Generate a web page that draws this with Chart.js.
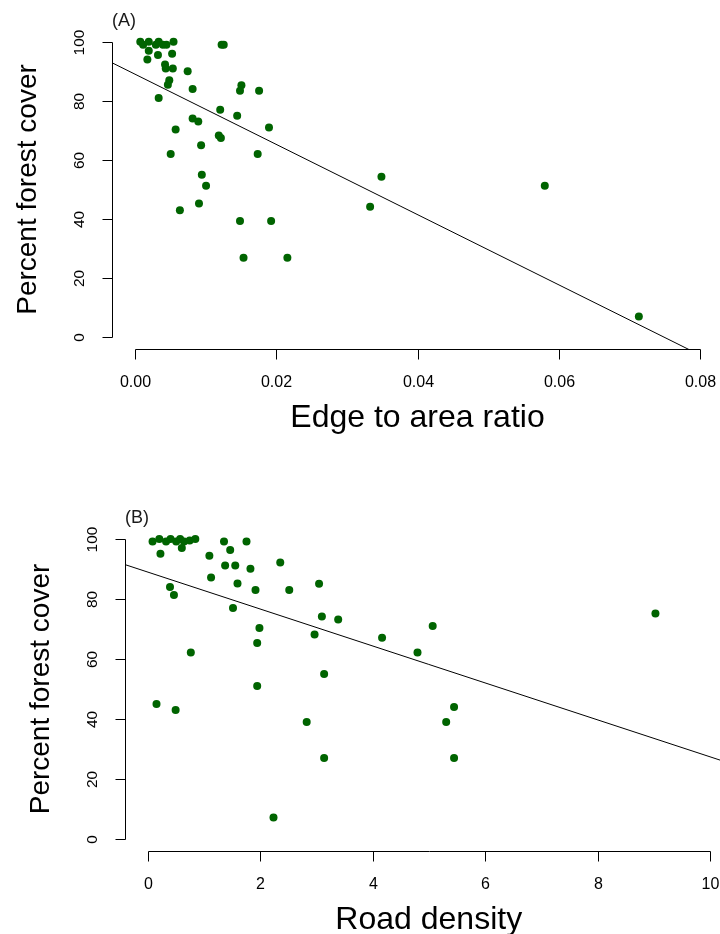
<!DOCTYPE html>
<html>
<head>
<meta charset="utf-8">
<script src="https://cdn.jsdelivr.net/npm/chart.js@4.4.0/dist/chart.umd.min.js"></script>
<style>
  html, body { margin: 0; padding: 0; background: #fff; }
  #wrap { position: relative; width: 720px; height: 934px; overflow: hidden; }
  #wrap canvas { position: absolute; left: 0; }
</style>
</head>
<body>
<div id="wrap">
  <canvas id="chartA" width="780" height="467" style="top:0"></canvas>
  <canvas id="chartB" width="780" height="467" style="top:467px"></canvas>
</div>
<script>
// --- panel A: edge to area ratio vs forest cover
const EDGE_RATIO = [
  0.0008, 0.0012, 0.0020, 0.0030, 0.0034, 0.0040, 0.0045, 0.0055,
  0.0020, 0.0033, 0.0053, 0.0018, 0.0043, 0.0044, 0.0054, 0.0075,
  0.0049, 0.0047, 0.0082, 0.0034, 0.0123, 0.0126, 0.0151, 0.0149,
  0.0176, 0.0121, 0.0145, 0.0082, 0.0090, 0.0190, 0.0058, 0.0119,
  0.0122, 0.0094, 0.0051, 0.0174, 0.0095, 0.0101, 0.0064, 0.0091,
  0.0149, 0.0193, 0.0154, 0.0216, 0.0349, 0.0333, 0.0580, 0.0713,
];
const COVER_A = [
  100, 99, 100, 99, 100, 99, 99, 100,
  97, 95.5, 96, 94, 92.3, 91, 91, 90,
  87, 85.5, 84, 81, 99, 99, 85.3, 83.4,
  83.4, 77, 75, 74, 73, 71, 70.3, 68.3,
  67.4, 65, 62, 62, 55, 51.3, 43, 45.3,
  39.3, 39.3, 26.9, 26.9, 54.3, 44.2, 51.3, 7,
];
const FIT_A = { intercept: 89.1, slope: -1190 };
const A_X_TICKS = [0, 0.02, 0.04, 0.06, 0.08];

// --- panel B: road density vs forest cover
const ROAD_DENSITY = [
  0.09, 0.21, 0.33, 0.41, 0.51, 0.58, 0.65, 0.75, 0.85,
  0.61, 0.23, 1.36, 1.76, 1.47, 1.10, 1.38, 1.56, 1.83,
  1.13, 1.60, 1.92, 0.40, 0.47, 1.52, 2.36, 2.52, 3.05,
  3.10, 3.39, 2.97, 4.17, 4.80, 5.07, 9.03, 1.99, 1.95,
  0.77, 1.95, 3.14, 0.16, 0.50, 2.83, 2.24, 3.14, 5.31,
  5.45, 5.45,
];
const COVER_B = [
  99.2, 100, 99.2, 100, 99.2, 100, 99.2, 99.5, 100,
  97, 95.1, 99.2, 99.2, 96.3, 94.4, 91.2, 91.2, 90.1,
  87.2, 85.2, 83, 84, 81.3, 77, 92.2, 83, 85.1,
  74.2, 73.2, 68.2, 67.1, 62.2, 71, 75.2, 70.3, 65.3,
  62.2, 51, 55, 45, 43, 39, 7.2, 27, 39,
  44, 27,
];
const FIT_B = { intercept: 89.0, slope: -6.16 };
const B_X_TICKS = [0, 2, 4, 6, 8, 10];

const Y_TICKS = [0, 20, 40, 60, 80, 100];

const FONT = '"Liberation Sans", Arial, sans-serif';
const POINT_COLOR = '#006400';
const TICK_LEN = 10;

// R-style axes: detached lines from first to last tick, rotated y labels
const rAxes = {
  id: 'rAxes',
  afterDraw(chart, args, opts) {
    const { ctx, chartArea: a, scales: { x, y } } = chart;
    ctx.save();
    ctx.strokeStyle = '#000';
    ctx.fillStyle = '#000';
    ctx.lineWidth = 1;

    // x axis
    const xs = x.ticks.map(t => Math.round(x.getPixelForValue(t.value)) + 0.5);
    const yb = Math.round(a.bottom) + 0.5;
    ctx.beginPath();
    ctx.moveTo(xs[0], yb);
    ctx.lineTo(xs[xs.length - 1], yb);
    xs.forEach(px => { ctx.moveTo(px, yb); ctx.lineTo(px, yb + TICK_LEN); });
    ctx.stroke();

    ctx.font = '16px ' + FONT;
    ctx.textAlign = 'center';
    ctx.textBaseline = 'alphabetic';
    x.ticks.forEach((t, i) => ctx.fillText(t.value.toFixed(opts.xDigits), xs[i], a.bottom + 38));

    ctx.font = '32px ' + FONT;
    ctx.fillText(opts.xTitle, (a.left + a.right) / 2, a.bottom + 78);

    // y axis
    const ys = y.ticks.map(t => Math.round(y.getPixelForValue(t.value)) + 0.5);
    const xl = Math.round(a.left) + 0.5;
    ctx.beginPath();
    ctx.moveTo(xl, ys[0]);
    ctx.lineTo(xl, ys[ys.length - 1]);
    ys.forEach(py => { ctx.moveTo(xl, py); ctx.lineTo(xl - TICK_LEN, py); });
    ctx.stroke();

    ctx.font = '15.5px ' + FONT;
    y.ticks.forEach((t, i) => {
      ctx.save();
      ctx.translate(a.left - 28, ys[i]);
      ctx.rotate(-Math.PI / 2);
      ctx.fillText(String(t.value), 0, 0);
      ctx.restore();
    });

    ctx.save();
    ctx.font = '28px ' + FONT;
    ctx.translate(a.left - 76, (a.top + a.bottom) / 2);
    ctx.rotate(-Math.PI / 2);
    ctx.fillText(opts.yTitle, 0, 0);
    ctx.restore();

    // panel tag
    ctx.font = '18px ' + FONT;
    ctx.textAlign = 'left';
    ctx.fillStyle = '#1a1a1a';
    ctx.fillText(opts.tag, a.left, a.top - 4);
    ctx.restore();
  },
};

function fitLine(fit, xmin, xmax) {
  return [
    { x: xmin, y: fit.intercept + fit.slope * xmin },
    { x: xmax, y: fit.intercept + fit.slope * xmax },
  ];
}

function makePanel(id, xs, ys, fit, xTicks, xRange, padding, axisOpts) {
  const points = xs.map((v, i) => ({ x: v, y: ys[i] }));
  return new Chart(document.getElementById(id), {
    type: 'scatter',
    data: {
      datasets: [
        {
          data: points,
          backgroundColor: POINT_COLOR,
          borderWidth: 0,
          pointRadius: 4,
          pointHoverRadius: 4,
          order: 2,
        },
        {
          type: 'line',
          data: fitLine(fit, xRange[0], xRange[1]),
          borderColor: '#000',
          borderWidth: 1,
          pointRadius: 0,
          fill: false,
          order: 1,
        },
      ],
    },
    options: {
      responsive: false, animation: false,
      layout: { padding },
      plugins: { legend: { display: false }, tooltip: { enabled: false }, rAxes: axisOpts },
      scales: {
        x: {
          type: 'linear', display: false, min: xRange[0], max: xRange[1],
          afterBuildTicks: s => { s.ticks = xTicks.map(v => ({ value: v })); },
        },
        y: {
          type: 'linear', display: false, min: -4, max: 104,
          afterBuildTicks: s => { s.ticks = Y_TICKS.map(v => ({ value: v })); },
        },
      },
    },
    plugins: [rAxes],
  });
}

makePanel('chartA', EDGE_RATIO, COVER_A, FIT_A, A_X_TICKS, [-0.0032, 0.0832],
  { left: 112, top: 30, right: 57, bottom: 118 },
  { xTitle: 'Edge to area ratio', yTitle: 'Percent forest cover', tag: '(A)', xDigits: 2 });

makePanel('chartB', ROAD_DENSITY, COVER_B, FIT_B, B_X_TICKS, [-0.4, 10.4],
  { left: 125, top: 60, right: 47.5, bottom: 83 },
  { xTitle: 'Road density', yTitle: 'Percent forest cover', tag: '(B)', xDigits: 0 });
</script>
</body>
</html>
